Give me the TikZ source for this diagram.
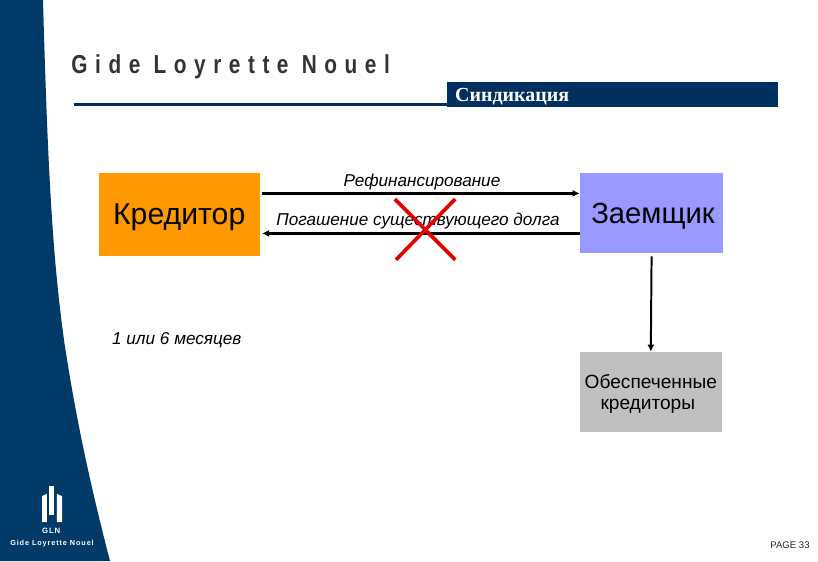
\documentclass[tikz,border=0pt]{standalone}
\usepackage{fontspec}
\setmainfont{Liberation Sans}
\newfontfamily\serifcyr{Liberation Serif}
\newfontfamily\spacedlogo[LetterSpace=29, FakeStretch=0.8]{Liberation Sans}
\newfontfamily\spacedsmall[LetterSpace=12]{Liberation Sans}
\usetikzlibrary{arrows.meta}
\definecolor{navy}{HTML}{003A68}
\definecolor{barnavy}{HTML}{00305F}
\definecolor{orangebox}{HTML}{FF9900}
\definecolor{bluebox}{HTML}{9999FF}
\definecolor{graybox}{HTML}{C0C0C0}
\newcommand{\lowertext}[2]{\raisebox{-#1}[\height][\depth]{#2}}
\tikzset{
	box/.style = {minimum width = 3.55cm, minimum height = 2cm, inner sep = 0pt},
	flow/.style = {color = black, line width = 1.7pt, -{Latex[length = 5pt, width = 5pt]}},
	cross/.style = {color = red!90!black, line width = 2.6pt},
	label/.style = {font = \fontsize{12.2}{14}\selectfont\itshape, inner sep = 0pt}
}
\begin{document}
\begin{tikzpicture}
	\useasboundingbox (0,0) rectangle (20.45,14.025);
	% fons lateral
	\fill[color = navy] (0,14.025) -- (1.075,14.025) .. controls (1.2,9.5) and (1.33,7.5) .. (1.6,5.525) .. controls (1.8,4.2) and (2.1,2.5) .. (2.75,0) -- (0,0) -- cycle;
	% logo dalt
	\node[anchor = west, inner sep = 0pt, color = black!80] (logo) at (1.78,12.35) {\spacedlogo\fontsize{18.5}{20}\selectfont\bfseries Gide Loyrette Nouel};
	% barra de titol
	\fill[color = barnavy] (1.85,11.38) rectangle (11.2,11.44);
	\node[anchor = west, fill = barnavy, minimum width = 8.27cm, minimum height = 0.62cm, inner sep = 0pt, text = white, text width = 8.27cm, align = left] (title) at (11.17,11.67) {\serifcyr\fontsize{14.2}{16}\selectfont\bfseries\hspace*{0.2cm}\lowertext{0.05cm}{Синдикация}};
	% caixes
	\node[box, fill = orangebox, minimum width = 4.03cm, minimum height = 2.08cm] (kreditor) at (4.48,8.66) {\lowertext{0.075cm}{\fontsize{21.5}{24}\selectfont Кредитор}};
	\node[box, fill = bluebox, minimum width = 3.58cm] (borrower) at (16.29,8.7) {\hspace*{0.07cm}\lowertext{0.075cm}{\fontsize{20.8}{24}\selectfont Заемщик}};
	\node[box, fill = graybox, minimum width = 3.55cm] (secured) at (16.27,4.225) {\lowertext{0.075cm}{\fontsize{13.6}{15}\selectfont\begin{tabular}{@{}c@{}}Обеспеченные\\кредиторы\hspace*{0.15cm}\end{tabular}}};
	% fletxes
	\draw[flow] ([xshift = 0.05cm, yshift = 0.53cm]kreditor.east) -- ([yshift = 0.49cm]borrower.west);
	\draw[flow] ([yshift = -0.51cm]borrower.west) -- ([xshift = 0.05cm, yshift = -0.47cm]kreditor.east);
	\draw[color = black, line width = 1.4pt, shorten <= 0.08cm, -{Latex[length = 5pt, width = 5pt]}] (borrower.south) -- (secured.north);
	% textos
	\node[label] (refinance) at (10.55,9.47) {Рефинансирование};
	\node[label] (repayment) at (10.45,8.5) {Погашение существующего долга};
	\node[label] (months) at (4.42,5.53) {1 или 6 месяцев};
	% creu
	\coordinate (crossA) at (9.87,9.05);
	\coordinate (crossB) at (11.38,7.53);
	\coordinate (crossC) at (11.38,9.05);
	\coordinate (crossD) at (9.9,7.53);
	\draw[cross] (crossA) -- (crossB);
	\draw[cross] (crossC) -- (crossD);
	% logo baix
	\fill[color = white] (1.05,0.975) -- (1.17,0.975) -- (1.17,1.68) -- (1.05,1.62) -- cycle;
	\fill[color = white] (1.23,1.15) -- (1.35,1.15) -- (1.35,1.875) -- (1.23,1.875) -- cycle;
	\fill[color = white] (1.42,0.975) -- (1.55,0.975) -- (1.55,1.62) -- (1.42,1.68) -- cycle;
	\node[text = white, inner sep = 0pt] (gln) at (1.28,0.76) {\spacedsmall\fontsize{5.5}{6}\selectfont\bfseries GLN};
	\node[text = white, inner sep = 0pt] (gidesmall) at (1.3,0.43) {\spacedsmall\fontsize{5.2}{6}\selectfont\bfseries Gide Loyrette Nouel};
	% pagina
	\node[inner sep = 0pt, color = black!85] (page) at (19.75,0.39) {\fontsize{6.8}{8}\selectfont PAGE 33};
\end{tikzpicture}
\end{document}
